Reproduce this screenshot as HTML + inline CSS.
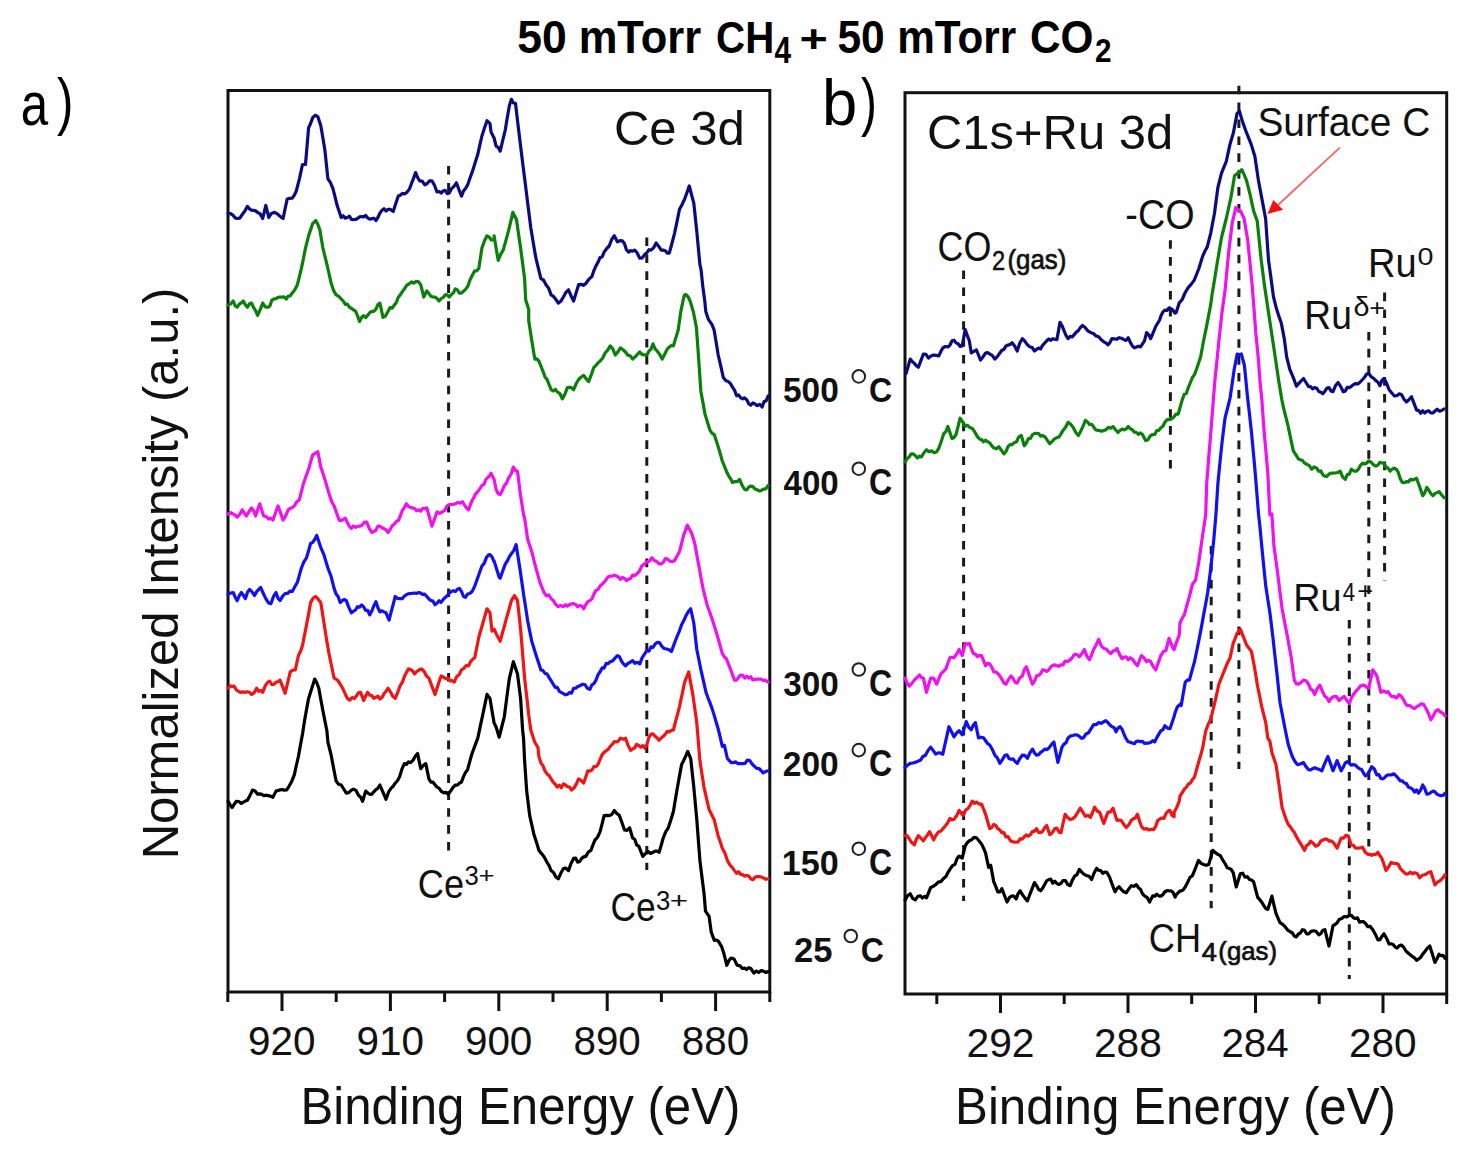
<!DOCTYPE html>
<html><head><meta charset="utf-8">
<style>
html,body{margin:0;padding:0;background:#fefefe;}
body{width:1469px;height:1153px;overflow:hidden;position:relative;font-family:"Liberation Sans",sans-serif;}
svg{position:absolute;left:0;top:0;}
</style></head><body>
<svg width="1469" height="1153" viewBox="0 0 1469 1153" font-family="Liberation Sans, sans-serif">
<!-- frames -->
<g fill="none" stroke="#111" stroke-width="3" stroke-linecap="butt">
<rect x="228" y="90.5" width="541.8" height="901.5"/>
<rect x="905" y="92.7" width="541.7" height="901.3"/>
<line x1="227.8" y1="992" x2="227.8" y2="1002"/>
<line x1="282.0" y1="992" x2="282.0" y2="1011"/>
<line x1="336.2" y1="992" x2="336.2" y2="1002"/>
<line x1="390.4" y1="992" x2="390.4" y2="1011"/>
<line x1="444.6" y1="992" x2="444.6" y2="1002"/>
<line x1="498.8" y1="992" x2="498.8" y2="1011"/>
<line x1="553.0" y1="992" x2="553.0" y2="1002"/>
<line x1="607.2" y1="992" x2="607.2" y2="1011"/>
<line x1="661.4" y1="992" x2="661.4" y2="1002"/>
<line x1="715.6" y1="992" x2="715.6" y2="1011"/>
<line x1="769.8" y1="992" x2="769.8" y2="1002"/>
<line x1="936.8" y1="994" x2="936.8" y2="1004"/>
<line x1="1000.5" y1="994" x2="1000.5" y2="1013"/>
<line x1="1064.2" y1="994" x2="1064.2" y2="1004"/>
<line x1="1128.0" y1="994" x2="1128.0" y2="1013"/>
<line x1="1191.7" y1="994" x2="1191.7" y2="1004"/>
<line x1="1255.5" y1="994" x2="1255.5" y2="1013"/>
<line x1="1319.2" y1="994" x2="1319.2" y2="1004"/>
<line x1="1383.0" y1="994" x2="1383.0" y2="1013"/>
<line x1="1446.7" y1="994" x2="1446.7" y2="1004"/>
</g>
<!-- dashed lines -->
<g stroke="#1a1a1a" stroke-width="3" stroke-dasharray="8.6,8.3" fill="none">
<line x1="448.6" y1="166" x2="448.6" y2="851" stroke-dashoffset="0"/>
<line x1="646.8" y1="237.5" x2="646.8" y2="870" stroke-dashoffset="0"/>
<line x1="963.6" y1="270.5" x2="963.6" y2="901" stroke-dashoffset="0"/>
<line x1="1170.4" y1="240.2" x2="1170.4" y2="468.5" stroke-dashoffset="0"/>
<line x1="1238.9" y1="85.7" x2="1238.9" y2="769" stroke-dashoffset="0"/>
<line x1="1211.2" y1="546" x2="1211.2" y2="908.2" stroke-dashoffset="0"/>
<line x1="1349.3" y1="620" x2="1349.3" y2="979" stroke-dashoffset="0"/>
<line x1="1368.8" y1="331.9" x2="1368.8" y2="846.5" stroke-dashoffset="0"/>
<line x1="1384.6" y1="292.6" x2="1384.6" y2="580.5" stroke-dashoffset="0"/>
</g>
<!-- curves -->
<g fill="none" stroke-width="3.2" stroke-linejoin="round" stroke-linecap="round">
<path d="M228.1,688.2 L230.1,685.8 L232.1,686.5 L234.2,686.2 L236.2,689.7 L238.3,691.2 L240.3,692.3 L242.8,691.9 L245.4,692.3 L247.4,691.7 L249.5,692.3 L251.5,694.4 L254.0,693.0 L256.6,688.2 L258.6,691.3 L260.7,690.5 L262.7,692.3 L265.3,685.6 L267.8,682.1 L269.8,681.2 L271.9,684.7 L273.9,684.2 L276.0,682.3 L278.0,681.7 L280.0,680.1 L282.6,686.7 L285.1,693.3 L287.7,682.6 L290.2,671.9 L292.8,670.1 L295.3,669.9 L298.4,655.6 L300.4,651.8 L302.5,645.4 L304.5,635.3 L306.5,625.1 L308.6,613.9 L310.6,602.6 L313.2,598.0 L315.7,596.5 L318.3,599.3 L320.8,602.6 L322.9,615.9 L324.9,629.1 L326.9,641.4 L329.0,653.6 L331.5,665.8 L334.1,678.1 L336.1,679.1 L338.1,680.8 L340.2,684.2 L342.6,688.2 L344.9,693.1 L347.3,698.4 L349.7,700.1 L352.1,697.6 L354.4,698.4 L356.5,695.7 L358.5,692.9 L360.6,692.3 L363.6,700.5 L365.7,695.9 L367.7,692.3 L369.7,695.2 L371.8,695.5 L373.8,698.4 L375.9,697.2 L377.9,696.2 L379.9,699.0 L382.0,697.4 L384.0,693.7 L386.0,691.3 L388.1,688.2 L390.5,692.0 L392.8,696.2 L395.2,698.4 L397.6,692.7 L400.0,686.0 L402.4,682.1 L404.4,676.5 L406.4,672.5 L408.5,668.9 L410.5,669.5 L412.5,670.8 L414.6,674.0 L417.0,671.3 L419.3,669.8 L421.7,668.9 L424.1,671.3 L426.5,676.0 L428.9,678.1 L430.9,683.5 L432.9,688.9 L435.0,694.4 L437.0,688.2 L439.0,682.1 L441.1,676.0 L443.5,677.1 L445.8,678.7 L448.2,678.1 L450.3,681.0 L452.3,680.7 L454.3,682.1 L456.7,676.7 L459.1,674.8 L461.5,669.9 L463.8,668.5 L466.2,665.6 L468.6,665.8 L470.6,661.6 L472.7,659.2 L474.7,657.7 L476.8,647.5 L478.8,637.3 L480.8,630.2 L482.9,623.0 L484.9,615.9 L487.0,608.8 L490.0,612.8 L492.0,631.2 L494.1,629.1 L496.6,634.7 L499.2,639.3 L500.2,641.4 L502.2,633.9 L504.3,626.4 L506.3,618.9 L508.9,609.8 L511.4,600.6 L514.5,595.5 L517.5,600.6 L520.6,629.1 L522.6,653.6 L524.6,678.1 L526.7,696.4 L528.7,714.7 L530.8,730.0 L533.8,739.2 L534.8,742.2 L537.9,747.4 L538.9,756.5 L540.9,762.9 L543.0,765.8 L545.0,770.8 L547.1,773.9 L549.1,775.5 L551.1,778.9 L553.2,782.1 L555.2,784.2 L557.2,787.1 L559.3,785.1 L561.3,787.8 L563.4,783.9 L565.4,785.0 L567.4,786.7 L569.5,787.0 L571.5,790.1 L573.9,788.1 L576.3,784.1 L578.6,778.9 L581.2,780.5 L583.7,783.0 L585.8,776.9 L587.8,770.8 L589.9,771.1 L591.9,770.0 L593.9,766.6 L596.0,766.7 L598.0,764.4 L600.0,759.7 L602.1,754.7 L604.1,752.4 L606.2,750.7 L608.2,749.3 L610.2,746.3 L612.3,744.3 L614.3,741.7 L616.3,742.0 L618.4,741.2 L620.4,738.2 L623.0,739.2 L625.5,738.2 L628.1,745.4 L630.6,750.4 L632.6,749.0 L634.7,747.9 L636.7,744.3 L638.8,745.6 L640.8,747.2 L642.8,745.6 L644.9,748.3 L646.9,744.4 L649.0,737.1 L651.0,734.1 L653.0,733.9 L655.1,736.3 L657.1,738.0 L659.1,740.2 L661.2,738.0 L663.2,736.4 L665.3,734.1 L667.3,731.3 L669.3,731.8 L671.4,730.4 L673.4,730.0 L675.4,722.2 L677.5,714.4 L679.5,706.6 L682.1,694.4 L684.6,682.1 L686.7,677.0 L688.7,671.9 L690.7,683.1 L692.8,694.4 L694.8,708.6 L696.8,722.9 L699.9,760.6 L701.9,773.8 L704.0,787.1 L706.5,798.3 L709.1,809.5 L711.6,814.6 L714.2,819.7 L716.2,827.8 L718.2,836.0 L720.3,842.1 L722.3,848.2 L724.9,853.0 L727.4,860.4 L729.8,864.8 L732.2,867.3 L734.5,870.6 L736.6,873.4 L738.6,871.8 L740.7,874.5 L742.7,874.7 L744.7,876.1 L746.8,875.4 L748.8,876.1 L750.8,878.8 L752.9,879.7 L754.9,877.2 L757.0,876.6 L759.0,876.7 L761.3,877.0 L763.6,877.9 L765.9,879.3 L768.2,878.8" stroke="#f01414"/>
<path d="M228.1,594.5 L230.6,593.0 L233.2,592.5 L235.2,597.2 L237.2,600.6 L239.3,595.7 L241.3,592.5 L243.3,595.2 L245.4,598.6 L247.4,592.4 L249.5,589.4 L252.0,591.9 L254.6,595.5 L256.6,591.7 L258.6,589.6 L260.7,587.4 L263.2,593.3 L265.8,598.6 L268.3,602.7 L270.9,603.7 L273.4,596.7 L276.0,592.5 L278.0,598.2 L280.0,600.6 L282.6,596.3 L285.1,593.5 L287.5,593.5 L289.9,591.1 L292.3,591.4 L294.8,586.8 L297.4,582.3 L299.4,575.1 L301.4,568.0 L304.0,561.6 L306.5,557.8 L308.6,550.7 L310.6,543.5 L312.7,542.4 L314.7,539.5 L316.7,535.4 L318.8,541.5 L320.8,547.6 L323.9,554.7 L325.9,561.4 L327.9,568.0 L331.0,576.1 L334.1,588.4 L336.1,594.0 L338.1,596.4 L340.2,602.6 L342.2,600.6 L344.3,599.5 L346.3,600.6 L348.8,607.4 L351.4,612.8 L353.4,611.3 L355.5,610.0 L357.5,606.7 L359.5,607.2 L361.6,605.0 L363.6,606.7 L365.7,610.5 L367.7,610.4 L369.7,614.9 L371.8,611.1 L373.8,605.9 L375.9,601.6 L377.9,607.8 L379.9,611.8 L382.0,610.8 L384.0,611.9 L386.0,612.8 L389.1,620.0 L391.1,612.2 L393.2,604.3 L395.2,596.5 L397.6,598.4 L400.0,598.7 L402.4,598.6 L404.7,595.8 L407.1,594.3 L409.5,593.5 L411.8,593.5 L414.1,593.0 L416.4,593.4 L418.7,592.5 L420.7,593.1 L422.7,594.3 L424.8,594.2 L426.8,596.5 L428.9,598.9 L430.9,600.5 L432.9,601.1 L435.0,604.7 L437.0,603.2 L439.0,600.8 L441.1,602.4 L443.1,599.6 L445.2,597.4 L447.2,595.8 L449.2,593.2 L451.3,591.4 L453.3,590.7 L455.4,591.6 L457.4,589.2 L459.4,588.4 L461.5,591.5 L463.5,596.5 L465.5,597.3 L467.6,594.0 L469.6,593.5 L472.2,591.4 L474.7,586.3 L477.1,579.5 L479.5,572.7 L481.9,566.0 L484.2,563.4 L486.6,557.2 L489.0,554.7 L490.0,554.7 L492.0,556.9 L494.1,561.9 L494.1,560.9 L496.6,569.0 L499.2,577.2 L500.2,578.2 L502.7,571.0 L505.3,563.9 L507.3,561.0 L509.4,556.6 L511.4,553.7 L513.7,550.6 L516.1,544.6 L519.5,566.0 L521.6,580.2 L523.6,594.5 L525.7,607.7 L527.7,621.0 L529.7,631.2 L531.8,641.4 L534.3,649.5 L536.9,657.7 L538.9,663.8 L540.9,669.9 L543.0,670.6 L545.0,673.4 L547.1,674.0 L549.1,677.6 L551.1,680.6 L553.2,684.2 L555.2,687.4 L557.2,687.3 L559.3,691.3 L561.3,692.5 L563.4,693.7 L565.4,694.8 L567.4,694.4 L569.5,692.5 L571.5,693.1 L573.6,688.4 L575.6,688.2 L578.0,686.4 L580.3,685.5 L582.7,684.2 L585.1,684.8 L587.5,688.4 L589.9,689.3 L591.9,684.8 L593.9,683.6 L596.0,680.1 L598.0,674.8 L600.0,672.0 L602.1,667.9 L604.1,668.1 L606.2,663.4 L608.2,663.7 L610.2,661.7 L612.6,660.9 L615.0,658.1 L617.4,655.6 L619.4,656.6 L621.4,661.0 L623.5,663.9 L625.5,665.8 L627.9,663.5 L630.3,662.2 L632.6,660.7 L635.0,663.3 L637.4,662.3 L639.8,663.8 L642.2,657.6 L644.5,654.2 L646.9,650.5 L649.0,651.1 L651.0,646.9 L653.0,647.5 L655.1,644.1 L657.1,642.4 L659.5,642.7 L661.9,646.4 L664.2,648.5 L666.6,649.0 L669.0,649.7 L671.4,651.6 L673.4,646.1 L675.4,640.7 L677.5,635.3 L679.5,630.8 L681.6,624.7 L683.6,621.0 L686.0,615.6 L688.4,611.5 L690.7,608.8 L693.8,623.0 L696.8,649.5 L698.9,659.7 L700.9,669.9 L703.5,681.1 L706.0,692.3 L708.0,697.8 L710.1,703.2 L712.1,708.6 L714.2,715.4 L716.2,722.2 L718.2,729.0 L720.3,737.7 L722.3,746.3 L724.4,745.3 L727.4,758.5 L729.4,760.8 L731.5,762.7 L733.5,762.6 L735.8,761.9 L738.1,763.7 L740.4,763.7 L742.7,763.6 L745.1,763.3 L747.4,760.0 L749.8,760.6 L752.4,764.4 L754.9,766.7 L757.0,768.5 L759.0,768.5 L761.0,770.5 L763.1,772.8 L765.6,771.5 L768.2,770.8" stroke="#1010f0"/>
<path d="M228.1,801.3 L230.1,804.9 L232.1,807.5 L234.2,804.3 L236.2,801.3 L238.8,801.5 L241.3,803.4 L243.3,802.1 L245.4,801.1 L247.4,800.3 L250.0,795.4 L252.5,790.1 L255.1,791.0 L257.6,794.2 L259.7,793.9 L261.7,794.4 L263.7,795.6 L265.8,795.2 L268.1,795.6 L270.5,796.1 L272.9,797.3 L276.0,791.1 L278.0,790.5 L280.0,789.9 L282.1,789.5 L284.1,790.1 L286.7,789.9 L289.2,786.0 L291.8,781.2 L294.3,774.8 L296.3,765.7 L298.4,756.5 L300.4,745.3 L302.5,734.1 L304.5,720.9 L306.5,709.6 L308.6,698.4 L310.6,692.0 L312.7,685.5 L314.7,679.1 L316.7,682.5 L318.8,688.2 L320.8,699.5 L322.9,710.7 L324.9,720.9 L326.9,731.0 L327.9,742.2 L331.0,754.5 L334.1,770.8 L336.1,781.0 L338.6,784.2 L341.2,785.0 L343.7,789.0 L346.3,793.2 L348.7,792.6 L351.1,790.3 L353.4,789.1 L356.0,790.4 L358.5,795.2 L360.6,797.1 L362.6,801.3 L365.7,791.1 L367.7,792.9 L369.7,794.3 L371.8,794.2 L373.8,791.8 L375.9,789.6 L377.9,788.2 L379.9,785.0 L382.0,790.0 L384.0,794.5 L386.0,799.3 L388.6,792.0 L391.1,788.1 L393.2,786.2 L395.2,783.2 L397.3,781.0 L399.6,776.8 L402.0,768.9 L404.4,763.6 L406.4,764.4 L408.5,761.9 L410.5,762.6 L412.9,760.4 L415.3,756.3 L417.6,753.4 L420.7,768.7 L423.2,765.5 L425.8,763.6 L428.9,778.9 L430.9,782.1 L432.9,782.0 L435.0,784.8 L437.0,787.1 L439.0,788.1 L441.1,791.1 L443.5,792.8 L445.8,792.4 L448.2,794.2 L450.6,791.1 L453.0,787.4 L455.4,785.0 L457.4,785.1 L459.4,783.2 L461.5,782.0 L463.5,776.6 L465.5,772.4 L467.6,769.7 L469.6,762.1 L471.7,754.5 L473.7,749.0 L475.7,743.6 L477.8,738.2 L480.1,727.2 L482.4,716.3 L484.7,705.3 L487.0,694.4 L490.0,698.4 L492.0,710.7 L494.1,722.9 L496.1,727.0 L499.2,737.2 L501.7,727.0 L504.3,716.8 L506.8,697.4 L509.4,678.1 L511.4,669.9 L513.4,661.7 L515.5,667.9 L517.5,674.0 L520.6,698.4 L522.6,730.0 L523.6,739.2 L524.6,760.6 L526.7,791.1 L529.7,815.6 L531.8,824.8 L533.8,833.9 L536.4,842.1 L538.9,850.3 L540.9,852.9 L543.0,855.3 L545.0,858.4 L547.1,862.5 L549.1,865.7 L551.1,870.6 L553.5,872.5 L555.9,877.0 L558.3,878.8 L560.8,873.3 L563.4,868.6 L565.9,868.2 L568.5,870.6 L571.0,863.5 L573.6,858.4 L575.6,858.0 L577.6,862.1 L579.7,861.5 L581.7,858.4 L583.7,856.9 L585.8,856.4 L588.3,852.0 L590.9,850.3 L592.9,845.2 L594.9,840.1 L597.5,837.2 L600.0,831.9 L602.1,823.8 L604.1,815.6 L606.7,815.3 L609.2,815.6 L611.8,814.5 L614.3,810.5 L616.9,813.6 L619.4,815.6 L622.0,822.7 L624.5,829.9 L627.0,830.4 L629.6,827.8 L632.6,838.0 L634.7,839.3 L636.7,845.0 L638.8,846.2 L640.8,851.3 L642.8,856.4 L645.4,853.7 L647.9,851.3 L650.5,853.5 L653.0,852.3 L655.1,851.2 L657.1,851.0 L659.1,852.3 L661.2,845.2 L663.2,838.0 L665.8,831.6 L668.3,827.8 L670.9,819.7 L673.4,811.5 L675.4,799.3 L677.5,787.1 L679.5,775.9 L681.6,764.6 L683.6,760.7 L685.6,756.4 L687.7,751.4 L690.7,758.5 L693.8,787.1 L696.8,819.7 L699.9,860.4 L701.9,876.7 L704.0,893.1 L705.5,911.2 L709.1,916.4 L711.2,932.0 L714.3,940.4 L716.4,940.0 L718.5,941.4 L721.6,946.6 L723.7,952.9 L726.8,965.3 L728.9,960.5 L731.0,958.1 L734.1,959.1 L737.2,965.3 L739.8,965.6 L742.4,968.5 L744.5,968.1 L746.6,969.5 L748.7,967.6 L750.8,968.5 L753.9,973.1 L756.3,971.1 L758.7,972.4 L761.2,970.5 L763.6,971.3 L766.0,972.5 L768.4,971.6" stroke="#000000"/>
<path d="M228.1,514.0 L230.6,512.7 L233.2,514.0 L235.2,515.2 L237.2,517.1 L239.8,514.2 L242.3,509.9 L244.4,513.3 L246.4,516.0 L249.0,511.6 L251.5,507.9 L253.5,510.6 L255.6,516.0 L257.6,509.9 L259.7,503.8 L261.7,509.9 L263.7,516.0 L266.3,516.6 L268.8,519.1 L270.9,518.2 L272.9,520.1 L275.5,513.0 L278.0,505.9 L280.6,513.0 L283.1,520.1 L285.6,516.2 L288.2,509.9 L290.2,508.4 L292.3,507.6 L294.3,505.9 L296.9,501.7 L299.4,499.7 L301.4,491.6 L303.5,483.4 L306.0,476.3 L308.6,469.2 L310.6,462.0 L312.7,454.9 L315.2,453.4 L317.8,451.8 L320.8,467.1 L322.9,473.2 L324.9,479.4 L326.9,486.5 L329.0,493.6 L331.5,501.2 L334.1,505.9 L336.6,513.0 L339.2,520.1 L341.2,520.6 L343.2,519.5 L345.3,518.1 L347.3,522.6 L349.4,526.4 L351.4,528.3 L353.4,526.0 L355.5,527.3 L357.5,526.5 L359.5,526.2 L361.9,525.4 L364.3,522.2 L366.7,522.2 L369.2,528.3 L371.8,532.4 L373.8,531.6 L375.9,530.3 L377.9,526.1 L379.9,526.2 L382.0,527.8 L384.0,528.7 L386.0,529.7 L388.1,532.4 L390.1,529.6 L392.2,525.8 L394.2,524.2 L396.2,521.7 L398.3,520.5 L400.3,516.0 L402.4,510.3 L404.4,507.3 L406.4,503.8 L408.5,506.5 L410.5,507.4 L412.5,507.9 L414.6,508.6 L416.6,510.7 L418.7,509.9 L420.7,511.2 L422.7,508.3 L424.8,508.6 L426.8,507.9 L429.4,517.1 L431.9,526.2 L434.5,519.1 L437.0,512.0 L439.6,513.4 L442.1,512.0 L444.7,510.4 L447.2,505.9 L449.2,504.7 L451.3,504.5 L453.3,504.5 L455.4,503.8 L457.7,502.4 L460.1,503.2 L462.5,501.8 L464.5,505.1 L466.6,508.1 L468.6,509.9 L471.2,502.6 L473.7,497.7 L475.7,493.8 L477.8,491.7 L479.8,488.8 L481.9,485.5 L483.9,484.3 L485.9,479.3 L488.0,477.3 L490.0,475.3 L491.0,473.2 L494.1,479.4 L496.1,489.5 L498.2,493.7 L500.2,494.6 L502.2,490.7 L504.3,485.7 L506.3,483.4 L508.7,477.9 L511.1,474.2 L513.4,467.1 L515.5,470.6 L517.5,471.2 L520.6,495.7 L523.6,515.0 L524.6,518.1 L527.7,539.5 L529.7,545.6 L531.8,551.7 L533.8,559.8 L535.9,568.0 L537.9,575.1 L539.9,582.3 L542.0,587.4 L544.0,592.5 L546.4,595.8 L548.8,595.0 L551.1,598.6 L553.5,600.8 L555.9,604.6 L558.3,606.7 L560.6,605.4 L563.0,606.7 L565.4,604.7 L567.4,606.1 L569.5,604.6 L571.5,603.9 L573.6,603.7 L575.6,604.4 L577.6,606.8 L579.7,605.5 L581.7,606.0 L583.7,608.8 L585.8,604.6 L587.8,601.6 L589.9,600.6 L591.9,598.9 L593.9,594.1 L596.0,590.4 L598.0,589.5 L600.0,586.2 L602.1,584.3 L604.1,582.2 L606.2,579.5 L608.2,576.7 L610.2,576.1 L612.3,576.1 L614.3,575.2 L616.3,575.8 L618.4,577.2 L620.4,579.3 L622.5,577.5 L624.5,578.5 L626.5,580.6 L628.6,579.2 L630.6,578.4 L632.6,575.1 L634.7,575.7 L636.7,574.1 L639.3,571.4 L641.8,566.0 L644.4,564.0 L646.9,561.9 L649.5,561.1 L652.0,557.8 L654.4,560.5 L656.8,561.6 L659.1,563.9 L661.2,563.8 L663.2,562.6 L665.3,558.7 L667.3,558.8 L669.7,561.1 L672.0,561.4 L674.4,560.9 L677.0,556.3 L679.5,551.7 L681.6,543.5 L683.6,535.4 L687.3,525.2 L689.5,529.3 L691.7,533.3 L694.8,543.5 L696.8,554.7 L698.9,566.0 L700.9,577.2 L703.0,588.4 L705.0,596.5 L707.0,604.7 L709.6,611.8 L712.1,618.9 L714.7,627.1 L717.2,635.3 L719.8,644.4 L722.3,653.6 L724.4,657.0 L726.4,658.8 L728.4,663.8 L730.5,669.2 L732.5,674.7 L734.5,680.1 L736.6,680.1 L738.6,677.4 L740.7,675.0 L742.7,675.3 L744.7,678.1 L746.8,676.1 L748.8,678.1 L750.8,676.8 L752.9,680.0 L754.9,679.5 L757.0,679.1 L759.0,679.2 L761.0,679.1 L763.1,680.3 L765.1,680.1 L768.2,682.1" stroke="#f010f0"/>
<path d="M228.1,305.1 L230.6,303.9 L233.2,301.0 L235.2,305.9 L237.2,307.2 L239.3,304.1 L241.3,302.9 L243.3,301.0 L245.4,304.9 L247.4,307.2 L249.5,303.8 L251.5,303.1 L253.5,307.3 L255.6,310.6 L257.6,315.3 L260.2,309.8 L262.7,303.1 L265.3,306.9 L267.8,307.2 L269.8,306.2 L271.9,300.1 L273.9,299.0 L276.0,298.7 L278.0,297.3 L280.0,297.0 L282.1,297.1 L284.1,296.8 L286.2,299.0 L288.2,296.1 L290.2,295.9 L292.3,292.9 L294.8,289.8 L297.4,284.7 L299.4,276.6 L301.4,268.4 L303.5,258.2 L305.5,248.1 L308.6,235.8 L310.6,229.7 L312.7,223.6 L315.7,220.5 L317.8,224.2 L319.8,229.7 L322.9,248.1 L324.9,256.2 L326.9,264.4 L329.0,273.5 L331.0,282.7 L333.6,290.6 L336.1,294.9 L338.5,296.2 L340.9,298.6 L343.2,301.0 L345.3,304.4 L347.3,304.1 L349.4,307.2 L351.4,308.2 L353.4,309.9 L355.5,311.2 L357.5,315.7 L359.5,321.4 L361.6,317.4 L363.6,315.6 L365.7,317.6 L367.7,315.3 L369.7,312.6 L371.8,311.3 L373.8,311.3 L375.9,309.2 L377.9,304.5 L379.9,303.1 L383.0,317.4 L385.5,316.0 L388.1,311.2 L390.1,307.6 L392.2,308.1 L394.2,305.1 L396.2,302.8 L398.3,297.2 L400.3,294.9 L402.4,291.7 L404.4,288.8 L406.9,285.2 L409.5,283.7 L411.5,281.8 L413.6,283.1 L415.6,281.7 L418.2,281.6 L420.7,284.7 L423.8,297.0 L426.8,290.9 L428.9,293.6 L430.9,296.3 L432.9,297.0 L435.0,297.2 L437.0,298.5 L439.0,301.0 L441.1,298.7 L443.1,297.5 L445.2,294.9 L447.2,294.9 L449.2,297.0 L451.3,294.6 L453.3,292.9 L455.4,288.8 L457.4,289.9 L459.4,293.3 L461.5,292.9 L463.5,291.3 L465.5,289.3 L467.6,286.8 L470.1,279.8 L472.7,274.5 L474.7,270.9 L476.8,270.8 L478.8,268.4 L481.9,248.1 L484.4,241.0 L487.0,235.8 L490.0,237.9 L491.0,239.9 L494.1,239.9 L494.1,235.8 L496.1,248.1 L498.2,260.3 L500.7,254.2 L503.2,250.1 L505.8,240.9 L508.3,231.7 L510.6,222.1 L512.8,212.4 L516.5,219.5 L518.5,233.8 L520.6,248.1 L522.6,263.3 L524.6,278.6 L525.7,300.0 L528.7,309.2 L528.7,320.4 L531.8,340.8 L534.8,359.1 L536.9,358.9 L538.9,361.1 L540.9,366.2 L543.0,371.3 L545.0,376.9 L547.1,379.5 L549.1,384.6 L551.1,389.7 L553.2,391.0 L555.2,389.4 L557.2,391.7 L559.8,393.5 L562.3,398.9 L564.9,394.2 L567.4,387.6 L569.5,387.2 L571.5,387.8 L573.6,389.7 L576.1,383.8 L578.6,379.5 L581.2,377.0 L583.7,375.4 L586.3,379.0 L588.8,381.5 L591.4,374.4 L593.9,367.3 L596.0,365.3 L598.0,362.9 L600.0,361.1 L602.6,358.2 L605.1,353.0 L607.7,350.2 L610.2,345.9 L612.8,348.9 L615.3,355.0 L617.9,351.9 L620.4,347.9 L623.0,349.8 L625.5,352.0 L627.9,355.3 L630.3,355.9 L632.6,359.1 L635.0,357.0 L637.4,354.4 L639.8,352.0 L642.2,354.6 L644.5,354.8 L646.9,355.0 L649.0,350.9 L651.0,349.2 L653.0,343.8 L655.1,348.8 L657.1,351.0 L659.7,354.4 L662.2,359.1 L664.7,354.2 L667.3,348.9 L669.3,347.1 L671.4,345.4 L673.4,345.9 L675.8,337.9 L678.2,330.0 L680.8,311.6 L682.9,301.2 L684.5,295.0 L686.0,294.5 L688.1,296.8 L690.2,301.2 L693.3,311.6 L696.4,327.2 L698.7,359.5 L700.9,391.7 L703.0,402.9 L705.0,414.1 L707.5,422.3 L710.1,430.4 L712.1,433.3 L714.2,434.5 L716.2,440.6 L718.2,446.7 L720.3,453.9 L722.3,461.0 L724.4,466.1 L726.4,471.2 L728.4,475.3 L730.5,478.6 L732.5,482.4 L734.9,481.6 L737.3,481.7 L739.6,479.4 L742.2,485.5 L744.7,489.5 L746.8,490.0 L748.8,486.9 L750.8,486.1 L752.9,486.5 L754.9,489.0 L757.0,489.7 L759.0,491.0 L761.0,490.6 L763.4,489.1 L765.8,488.9 L768.2,485.5" stroke="#0a800a"/>
<path d="M228.1,213.4 L230.6,213.7 L233.2,215.4 L235.2,217.9 L237.2,218.5 L239.8,218.2 L242.3,214.4 L244.9,211.1 L247.4,206.3 L249.5,208.9 L251.5,210.2 L253.5,210.3 L255.6,210.9 L257.6,212.4 L260.2,213.9 L262.7,218.5 L265.8,205.3 L268.8,217.5 L271.4,213.4 L273.9,212.4 L276.5,213.2 L279.0,215.4 L281.1,217.1 L283.1,218.5 L285.1,208.8 L287.2,199.1 L289.7,198.3 L292.3,198.1 L294.3,195.2 L296.3,191.0 L299.4,178.8 L302.5,164.5 L305.5,164.5 L308.6,127.8 L310.6,123.5 L312.7,117.6 L315.2,115.3 L317.8,116.6 L320.8,125.8 L322.9,138.0 L324.9,150.2 L327.9,178.8 L330.5,182.6 L333.0,188.9 L335.1,197.1 L337.1,205.3 L339.2,211.4 L341.2,217.5 L343.2,215.8 L345.3,218.1 L347.3,217.5 L349.4,216.2 L351.4,219.3 L353.4,219.6 L355.5,219.5 L357.5,218.5 L359.5,216.9 L361.6,216.5 L363.6,216.8 L365.7,215.4 L367.7,218.0 L369.7,219.2 L371.8,218.6 L373.8,218.2 L375.9,220.5 L377.9,217.5 L379.9,213.1 L382.0,210.3 L384.0,208.7 L386.0,211.1 L388.1,209.3 L390.6,209.4 L393.2,211.4 L395.7,203.7 L398.3,196.1 L400.3,195.3 L402.4,193.4 L404.4,194.0 L406.9,192.4 L409.5,188.9 L411.5,183.5 L413.6,178.1 L415.6,172.6 L417.6,177.5 L419.7,180.8 L422.2,181.2 L424.8,184.9 L427.2,183.5 L429.5,180.9 L431.9,180.8 L434.5,185.3 L437.0,192.0 L439.0,191.5 L441.1,193.0 L443.1,191.0 L445.2,190.3 L447.2,193.7 L449.2,193.0 L451.6,188.6 L454.0,186.3 L456.4,182.8 L458.9,189.5 L461.5,196.1 L463.5,191.0 L465.5,188.5 L467.6,184.9 L470.1,177.7 L472.7,170.6 L475.2,162.5 L477.8,154.3 L479.8,145.1 L481.9,136.0 L484.4,128.3 L487.0,120.7 L490.0,123.7 L491.0,131.9 L494.1,138.0 L496.1,146.1 L498.2,147.4 L500.2,151.2 L502.7,140.5 L505.3,129.8 L507.3,117.6 L509.4,105.4 L511.4,99.3 L513.4,103.0 L515.5,103.3 L518.0,124.7 L520.6,146.1 L523.1,166.5 L525.7,186.9 L528.2,207.3 L530.8,227.7 L533.3,243.0 L535.9,258.2 L538.4,268.4 L540.9,278.6 L543.5,280.0 L546.0,284.7 L548.6,288.1 L551.1,294.9 L553.5,296.4 L555.9,299.5 L558.3,303.1 L560.8,301.3 L563.4,297.0 L565.9,292.3 L568.5,289.8 L571.0,295.7 L573.6,301.0 L576.1,292.9 L578.6,284.7 L581.0,284.3 L583.4,285.3 L585.8,283.7 L587.8,280.6 L589.9,278.2 L591.9,276.6 L593.9,270.6 L596.0,265.9 L598.0,262.3 L600.0,257.6 L602.1,257.0 L604.1,252.1 L606.7,248.5 L609.2,246.0 L611.8,239.2 L614.3,235.8 L617.4,241.9 L619.9,240.7 L622.5,240.9 L624.5,243.7 L626.5,249.9 L628.6,252.1 L630.6,250.6 L632.6,251.2 L634.7,250.1 L637.2,253.1 L639.8,258.2 L642.3,257.9 L644.9,254.2 L646.9,252.7 L649.0,249.7 L651.0,250.1 L653.5,247.9 L656.1,243.0 L658.6,246.2 L661.2,250.1 L663.2,250.1 L665.3,250.7 L667.3,253.2 L669.3,253.1 L671.9,243.5 L674.4,233.8 L677.0,221.6 L679.5,209.3 L682.1,204.5 L684.6,199.1 L687.0,192.5 L689.3,185.9 L691.5,194.6 L693.8,203.2 L696.8,231.7 L699.9,264.4 L701.1,270.0 L702.7,285.6 L704.8,301.2 L705.8,311.6 L708.4,319.4 L712.0,324.6 L714.1,330.0 L716.2,342.5 L718.2,355.0 L720.8,366.2 L723.3,377.5 L725.7,380.6 L728.1,381.4 L730.5,383.6 L732.5,387.2 L734.5,390.1 L736.6,395.8 L738.6,394.9 L740.7,397.9 L742.7,398.8 L744.7,397.8 L746.8,399.8 L748.8,403.9 L750.8,405.1 L752.9,402.8 L754.9,403.9 L757.3,405.7 L759.7,404.3 L762.1,407.0 L764.1,401.6 L766.1,400.9 L768.2,395.8" stroke="#0b0b80"/>
<path d="M905.1,835.7 L907.1,835.6 L909.2,838.8 L911.7,842.6 L914.3,844.9 L916.3,839.6 L918.3,835.7 L920.9,838.2 L923.4,840.8 L925.5,837.5 L927.5,834.9 L929.5,831.7 L931.6,835.6 L933.6,839.8 L936.2,835.0 L938.7,831.7 L940.8,831.2 L942.8,828.9 L944.8,826.6 L947.4,823.3 L949.9,818.4 L952.0,819.8 L954.0,819.4 L956.6,815.8 L959.1,810.3 L961.1,813.2 L963.2,815.3 L965.7,810.1 L968.3,808.2 L970.3,805.0 L972.3,801.1 L974.4,803.3 L976.4,802.1 L979.0,804.1 L981.5,804.1 L983.6,809.2 L985.6,814.3 L987.6,821.5 L989.7,828.6 L991.7,827.6 L993.7,824.5 L995.8,825.5 L997.8,828.6 L999.9,830.0 L1001.9,832.7 L1003.9,832.6 L1006.0,837.0 L1008.0,836.7 L1010.6,840.9 L1013.1,841.8 L1015.6,842.2 L1018.2,841.8 L1020.2,838.7 L1022.3,839.1 L1024.3,836.7 L1026.3,835.0 L1028.4,836.1 L1030.4,834.7 L1032.5,831.3 L1034.5,831.3 L1036.5,828.6 L1038.6,832.4 L1040.6,832.7 L1042.6,831.4 L1044.7,827.7 L1046.7,825.5 L1049.8,834.7 L1052.3,832.7 L1054.9,828.6 L1056.9,828.2 L1059.0,832.1 L1061.0,832.7 L1063.0,823.5 L1065.1,814.3 L1067.6,817.4 L1070.2,819.4 L1072.7,818.7 L1075.3,816.4 L1077.8,812.2 L1080.3,808.2 L1082.9,812.2 L1085.4,816.4 L1088.0,815.3 L1090.5,817.4 L1092.6,812.3 L1094.6,807.2 L1097.2,811.2 L1099.7,812.3 L1101.7,817.9 L1103.8,823.5 L1105.8,817.9 L1107.9,812.3 L1110.4,811.9 L1113.0,808.2 L1115.0,814.3 L1117.0,820.4 L1119.1,820.0 L1121.1,820.4 L1123.7,824.3 L1126.2,827.6 L1128.7,825.0 L1131.3,820.4 L1133.3,818.7 L1135.4,817.9 L1137.4,814.3 L1139.4,820.4 L1141.5,826.6 L1144.0,829.2 L1146.6,828.6 L1149.0,830.0 L1151.3,829.3 L1153.7,829.6 L1155.7,826.4 L1157.8,820.4 L1159.8,819.0 L1161.9,818.0 L1163.9,818.4 L1166.4,812.9 L1169.0,810.3 L1170.0,810.5 L1172.0,815.4 L1174.1,816.6 L1174.1,812.3 L1176.6,807.7 L1179.2,801.3 L1180.0,796.0 L1182.1,793.0 L1184.3,789.1 L1186.3,787.4 L1188.3,784.2 L1190.4,783.0 L1192.4,779.7 L1194.5,776.9 L1196.5,769.7 L1198.5,762.6 L1200.6,755.5 L1202.6,748.3 L1205.7,731.0 L1208.2,724.4 L1210.8,718.8 L1212.8,710.7 L1214.8,702.5 L1216.9,693.3 L1218.9,684.2 L1220.9,679.1 L1223.0,674.0 L1225.0,668.9 L1227.1,663.8 L1230.1,657.7 L1233.2,643.4 L1235.2,638.3 L1237.2,633.2 L1240.3,629.1 L1242.3,634.2 L1244.4,639.3 L1246.4,644.7 L1248.5,647.5 L1251.5,651.6 L1254.6,667.9 L1257.6,686.2 L1259.7,696.4 L1261.7,706.6 L1263.7,714.7 L1265.8,722.9 L1267.8,738.2 L1269.9,741.2 L1271.9,752.4 L1273.9,758.5 L1276.0,764.6 L1279.0,785.0 L1282.1,807.5 L1284.1,813.6 L1286.2,819.7 L1288.2,824.4 L1290.2,826.6 L1292.3,829.9 L1294.3,832.3 L1296.3,836.5 L1298.4,840.1 L1300.4,843.3 L1302.5,846.9 L1304.5,850.3 L1306.5,845.6 L1308.6,844.4 L1310.6,841.1 L1313.2,843.3 L1315.7,846.2 L1318.3,845.1 L1320.8,841.1 L1322.8,840.0 L1324.9,839.2 L1326.9,839.0 L1329.0,841.2 L1331.0,840.9 L1333.0,842.1 L1335.1,845.1 L1337.1,848.2 L1339.1,843.1 L1341.2,838.0 L1343.6,838.1 L1345.9,835.3 L1348.3,836.0 L1351.4,845.2 L1353.4,845.3 L1355.4,847.9 L1357.5,848.2 L1360.0,848.0 L1362.6,847.2 L1365.1,852.1 L1367.7,854.3 L1369.7,854.1 L1371.7,855.3 L1373.8,854.3 L1375.8,854.5 L1377.9,852.3 L1379.9,855.7 L1381.9,858.4 L1384.0,864.5 L1386.0,870.6 L1388.6,867.0 L1391.1,862.5 L1393.7,863.3 L1396.2,863.5 L1398.2,864.3 L1400.3,868.5 L1402.3,870.6 L1404.4,872.7 L1406.4,874.1 L1408.4,873.7 L1410.5,872.1 L1412.5,873.8 L1414.5,872.7 L1417.1,873.5 L1419.6,877.8 L1422.2,875.3 L1424.7,874.7 L1426.8,873.7 L1428.8,872.2 L1430.8,871.7 L1432.9,878.3 L1434.9,884.9 L1437.5,882.2 L1440.0,880.8 L1442.6,878.2 L1445.1,874.7" stroke="#f01414"/>
<path d="M905.1,767.5 L907.6,765.1 L910.2,763.4 L912.7,763.0 L915.3,762.4 L917.8,761.2 L920.4,760.3 L922.9,756.5 L925.5,755.2 L928.0,750.6 L930.6,747.1 L933.1,750.4 L935.7,754.2 L938.0,752.9 L940.4,753.0 L942.8,754.2 L944.8,745.0 L946.9,735.9 L948.9,726.7 L951.5,731.8 L954.0,736.9 L956.6,733.0 L959.1,730.8 L962.2,734.8 L964.2,728.2 L966.2,721.6 L968.8,727.4 L971.3,729.7 L973.4,725.0 L975.4,722.6 L978.5,737.9 L981.0,737.2 L983.6,737.9 L985.6,740.7 L987.6,743.5 L989.7,745.0 L992.2,749.2 L994.8,755.2 L997.3,757.9 L999.9,763.4 L1002.4,759.7 L1004.9,755.2 L1007.0,754.8 L1009.0,758.6 L1011.1,759.3 L1013.1,758.9 L1015.1,761.5 L1017.2,763.4 L1019.7,758.8 L1022.3,755.2 L1024.8,755.4 L1027.4,758.3 L1029.9,752.9 L1032.5,749.1 L1034.5,753.0 L1036.5,755.2 L1038.6,754.8 L1040.6,752.3 L1042.6,751.1 L1044.7,749.1 L1046.7,749.6 L1048.8,748.1 L1051.3,744.7 L1053.9,742.0 L1055.9,752.2 L1057.9,762.4 L1060.0,754.7 L1062.0,747.1 L1064.0,744.1 L1066.1,742.6 L1068.1,737.9 L1070.5,735.9 L1072.9,735.5 L1075.3,734.8 L1077.3,735.0 L1079.3,736.4 L1081.4,738.3 L1083.4,737.9 L1086.0,734.0 L1088.5,732.8 L1091.0,728.8 L1093.6,724.6 L1096.1,724.7 L1098.7,722.6 L1101.1,723.3 L1103.4,722.0 L1105.8,720.6 L1107.9,722.7 L1109.9,724.8 L1111.9,726.7 L1114.0,727.4 L1116.0,731.8 L1118.0,728.1 L1120.1,726.7 L1122.1,729.2 L1124.2,734.7 L1126.2,738.9 L1128.2,741.8 L1130.3,742.2 L1132.3,743.0 L1134.4,743.7 L1136.4,741.3 L1138.4,741.0 L1140.5,741.7 L1142.5,741.4 L1144.5,743.5 L1146.6,743.0 L1148.6,743.1 L1150.7,742.4 L1152.7,740.7 L1154.7,742.0 L1156.8,737.6 L1158.8,734.1 L1160.8,730.8 L1162.9,729.8 L1164.9,725.7 L1167.5,728.2 L1170.0,728.7 L1172.1,722.6 L1174.1,716.5 L1175.1,712.7 L1177.5,706.7 L1180.0,704.3 L1181.2,705.6 L1183.2,693.8 L1185.3,682.1 L1187.3,680.2 L1189.4,680.1 L1191.9,670.9 L1194.5,661.7 L1197.0,649.5 L1199.5,637.3 L1201.6,626.1 L1203.6,614.9 L1205.7,603.7 L1207.7,592.5 L1210.8,568.0 L1213.8,539.5 L1215.9,515.0 L1217.9,483.4 L1219.9,463.1 L1222.0,442.7 L1225.0,418.2 L1227.6,408.0 L1230.1,397.8 L1232.2,383.6 L1234.2,369.3 L1237.2,354.0 L1239.3,354.7 L1241.3,354.0 L1244.4,365.2 L1247.4,395.8 L1249.5,414.1 L1251.5,432.5 L1253.6,454.9 L1255.6,477.3 L1258.6,515.0 L1259.7,524.2 L1261.7,545.6 L1263.7,566.0 L1265.8,586.3 L1267.8,599.6 L1269.9,612.8 L1272.9,637.3 L1274.9,655.6 L1277.0,674.0 L1280.0,702.5 L1283.1,718.8 L1285.1,729.0 L1287.2,739.2 L1288.2,744.3 L1290.2,750.4 L1292.3,756.5 L1294.8,761.3 L1297.4,764.6 L1299.4,764.2 L1301.4,763.4 L1303.5,762.6 L1306.0,766.6 L1308.6,769.7 L1310.6,769.8 L1312.6,768.7 L1314.7,767.7 L1317.1,768.7 L1319.4,769.6 L1321.8,770.8 L1323.9,765.4 L1325.9,760.8 L1327.9,756.5 L1330.5,763.6 L1333.0,770.8 L1335.1,765.7 L1337.1,760.6 L1339.1,765.7 L1341.2,770.8 L1343.2,767.3 L1345.3,762.9 L1347.3,761.6 L1349.3,763.3 L1351.4,765.2 L1353.4,764.6 L1355.4,765.0 L1357.5,767.3 L1359.5,768.7 L1361.6,769.5 L1363.6,773.3 L1365.6,775.9 L1367.7,774.1 L1369.7,770.6 L1371.7,766.7 L1374.3,769.0 L1376.8,774.8 L1378.9,774.7 L1380.9,778.5 L1383.0,778.9 L1385.0,777.2 L1387.0,775.2 L1389.1,774.8 L1391.4,775.0 L1393.8,773.8 L1396.2,775.9 L1398.2,778.3 L1400.3,781.0 L1402.3,780.8 L1404.4,783.0 L1406.4,783.6 L1408.4,787.1 L1410.5,787.9 L1412.5,789.1 L1414.5,792.1 L1416.6,790.0 L1418.6,793.2 L1420.7,789.8 L1422.7,785.0 L1424.7,788.4 L1426.8,794.2 L1428.8,793.8 L1430.8,792.5 L1432.9,791.1 L1434.9,791.8 L1437.0,794.1 L1439.0,795.2 L1441.0,795.6 L1443.1,795.4 L1445.1,793.2" stroke="#1010f0"/>
<path d="M905.1,899.9 L907.6,895.7 L910.2,893.8 L912.7,898.4 L915.3,899.9 L917.8,896.3 L920.4,895.9 L922.4,898.0 L924.5,896.4 L926.5,897.9 L928.5,892.8 L930.6,887.7 L933.1,886.3 L935.7,884.6 L938.2,882.1 L940.8,881.6 L943.3,878.7 L945.9,876.5 L947.9,872.6 L949.9,869.4 L952.5,865.6 L955.0,864.3 L957.1,858.5 L959.1,856.1 L962.2,858.1 L965.2,845.9 L967.2,842.7 L969.3,840.8 L971.7,839.7 L974.0,837.4 L976.4,837.8 L979.0,840.7 L981.5,843.9 L983.6,848.2 L985.6,853.1 L988.6,867.3 L990.7,865.3 L993.7,881.6 L995.8,886.7 L997.8,891.8 L999.9,892.0 L1001.9,888.7 L1004.4,895.3 L1007.0,902.0 L1009.5,897.4 L1012.1,895.9 L1014.1,896.3 L1016.2,898.9 L1018.2,893.4 L1020.2,890.8 L1022.6,894.9 L1025.0,898.1 L1027.4,900.9 L1029.7,894.8 L1032.1,888.7 L1034.5,882.6 L1036.5,885.6 L1038.6,889.4 L1040.6,890.8 L1042.6,888.2 L1044.7,884.5 L1046.7,880.8 L1048.8,879.5 L1050.8,879.2 L1052.8,883.2 L1054.9,881.2 L1056.9,883.6 L1059.0,884.4 L1061.0,883.3 L1063.0,880.6 L1065.4,880.5 L1067.8,884.6 L1070.2,885.7 L1072.5,879.8 L1074.7,876.2 L1077.0,874.7 L1079.3,869.4 L1081.7,872.1 L1084.1,874.4 L1086.5,875.5 L1089.0,876.3 L1091.6,879.5 L1094.1,873.0 L1096.7,868.3 L1098.7,870.4 L1100.7,870.5 L1102.8,873.4 L1104.8,872.0 L1106.8,872.4 L1109.4,876.8 L1111.9,883.6 L1115.0,891.8 L1117.0,888.6 L1119.1,886.7 L1121.4,889.6 L1123.8,891.8 L1126.2,892.8 L1128.7,889.1 L1131.3,885.7 L1133.8,886.3 L1136.4,884.6 L1138.4,887.7 L1140.5,889.3 L1142.5,893.8 L1144.9,896.2 L1147.3,897.7 L1149.6,902.0 L1152.7,895.9 L1154.7,896.3 L1156.8,894.2 L1158.8,895.9 L1160.8,896.1 L1162.9,894.6 L1164.9,891.8 L1167.5,890.5 L1170.0,891.0 L1171.0,890.8 L1173.1,892.5 L1175.1,897.1 L1176.1,894.8 L1180.0,890.8 L1181.2,891.0 L1183.2,889.8 L1185.3,886.8 L1187.3,882.9 L1189.9,877.6 L1192.4,875.7 L1194.5,870.6 L1196.5,865.5 L1198.5,860.4 L1201.1,863.4 L1203.6,864.5 L1206.2,865.3 L1208.7,864.5 L1210.8,857.4 L1212.8,850.3 L1215.3,852.6 L1217.9,854.3 L1220.4,855.7 L1223.0,860.4 L1225.0,863.5 L1227.1,867.6 L1229.1,868.6 L1231.1,869.3 L1233.2,872.7 L1236.2,886.9 L1238.3,880.3 L1240.3,873.7 L1242.7,873.2 L1245.1,877.2 L1247.4,876.7 L1249.5,879.4 L1251.5,880.1 L1253.6,881.8 L1255.6,889.5 L1257.6,897.1 L1259.7,899.6 L1261.7,902.2 L1263.7,905.3 L1265.8,908.6 L1267.8,909.4 L1269.9,902.7 L1271.9,896.1 L1273.9,904.8 L1276.0,913.4 L1278.0,918.1 L1280.0,922.6 L1282.6,924.3 L1285.1,926.7 L1287.7,930.1 L1290.2,931.8 L1292.3,932.8 L1294.3,936.1 L1296.3,936.9 L1298.4,934.0 L1300.4,933.0 L1302.5,929.7 L1304.5,930.3 L1306.5,933.8 L1308.6,933.8 L1311.1,931.4 L1313.7,930.8 L1316.2,931.5 L1318.8,934.8 L1320.8,933.6 L1322.8,930.2 L1324.9,929.7 L1326.9,937.9 L1329.0,946.0 L1331.0,935.9 L1333.0,925.7 L1335.1,924.5 L1337.1,922.8 L1339.1,919.5 L1341.7,918.5 L1344.2,916.5 L1346.8,916.9 L1349.3,915.5 L1351.4,915.3 L1353.4,917.7 L1355.4,918.5 L1357.5,917.9 L1359.5,922.1 L1361.6,921.6 L1363.6,921.7 L1365.6,923.5 L1367.7,926.7 L1370.2,926.4 L1372.8,929.7 L1375.3,934.2 L1377.9,939.9 L1379.9,939.7 L1381.9,936.4 L1384.0,933.8 L1386.5,938.2 L1389.1,944.0 L1391.1,943.8 L1393.1,944.5 L1395.2,947.1 L1397.2,948.0 L1399.3,945.7 L1401.3,945.0 L1403.7,947.2 L1406.1,951.2 L1408.4,953.2 L1410.5,955.0 L1412.5,956.6 L1414.5,957.9 L1416.6,960.3 L1418.6,959.1 L1420.7,957.3 L1422.7,954.2 L1425.1,951.2 L1427.4,948.1 L1429.8,946.0 L1432.4,954.2 L1434.9,962.4 L1437.0,958.8 L1439.0,954.2 L1441.0,955.7 L1443.1,955.3 L1445.1,958.3" stroke="#000000"/>
<path d="M905.1,678.1 L907.1,683.0 L909.2,686.2 L911.7,683.6 L914.3,680.1 L916.8,677.8 L919.4,675.0 L921.4,677.6 L923.4,678.1 L926.5,692.3 L928.5,685.2 L930.6,678.1 L933.6,678.1 L936.7,684.2 L938.7,679.1 L940.8,674.0 L943.3,671.6 L945.9,668.9 L947.9,663.3 L949.9,657.7 L952.0,657.2 L954.0,657.7 L956.6,654.1 L959.1,649.5 L962.2,655.6 L965.2,643.4 L967.2,644.2 L969.3,643.4 L971.3,648.5 L973.4,653.6 L975.4,654.0 L977.4,656.7 L979.5,655.5 L981.5,655.6 L983.6,660.7 L985.6,665.8 L987.6,663.2 L989.7,663.8 L991.7,667.0 L993.7,671.9 L995.8,671.8 L997.8,673.7 L999.9,676.0 L1001.9,679.3 L1003.9,682.9 L1006.0,684.2 L1008.5,679.6 L1011.1,676.0 L1013.1,678.6 L1015.1,682.3 L1017.2,683.1 L1019.7,678.0 L1022.3,676.0 L1024.3,669.9 L1026.3,666.8 L1028.4,672.6 L1030.4,678.4 L1032.5,684.2 L1034.5,681.1 L1036.5,676.0 L1038.6,675.3 L1040.6,673.7 L1042.6,669.9 L1044.7,670.3 L1046.7,671.4 L1048.8,669.9 L1051.3,666.3 L1053.9,664.8 L1056.2,665.4 L1058.6,666.3 L1061.0,664.8 L1063.0,664.9 L1065.1,661.0 L1067.1,661.6 L1069.1,660.7 L1071.7,658.3 L1074.2,654.6 L1076.8,654.4 L1079.3,656.7 L1081.9,653.6 L1084.4,649.5 L1087.0,656.4 L1089.5,659.7 L1091.6,654.6 L1093.6,649.5 L1096.1,644.9 L1098.7,639.3 L1101.2,645.7 L1103.8,648.5 L1106.2,649.0 L1108.5,651.8 L1110.9,653.6 L1113.0,650.9 L1115.0,650.6 L1117.0,648.5 L1119.6,654.6 L1122.1,658.7 L1124.2,657.0 L1126.2,656.9 L1128.2,659.7 L1130.3,657.7 L1132.7,659.5 L1135.0,662.9 L1137.4,665.8 L1139.4,660.7 L1141.5,655.6 L1144.0,658.0 L1146.6,661.7 L1148.6,660.3 L1150.7,661.7 L1153.2,666.6 L1155.7,669.9 L1158.3,662.8 L1160.8,655.6 L1163.4,651.5 L1165.9,650.5 L1169.0,638.3 L1171.0,643.4 L1173.1,648.5 L1174.1,649.5 L1176.1,643.4 L1179.2,635.3 L1180.0,623.0 L1182.1,618.3 L1184.3,614.9 L1186.8,605.7 L1189.4,596.5 L1192.4,584.3 L1195.5,580.2 L1198.5,563.9 L1200.6,549.6 L1202.6,535.4 L1205.7,515.0 L1206.7,483.4 L1208.7,458.0 L1210.8,432.5 L1212.8,407.0 L1214.8,381.5 L1216.9,361.1 L1218.9,340.8 L1222.0,312.2 L1225.1,290.0 L1228.7,251.8 L1232.2,223.2 L1235.8,207.7 L1238.2,209.3 L1240.6,211.3 L1244.1,218.5 L1247.7,239.9 L1249.7,260.0 L1252.1,284.3 L1254.0,308.6 L1255.8,332.9 L1258.2,357.1 L1260.0,381.4 L1261.9,400.0 L1263.7,426.4 L1265.8,449.8 L1267.8,473.2 L1269.9,515.0 L1271.9,514.0 L1273.9,545.6 L1276.0,560.9 L1278.0,576.1 L1280.0,592.5 L1282.1,608.8 L1284.6,622.0 L1287.2,635.3 L1289.2,646.5 L1291.3,657.7 L1294.3,680.1 L1296.3,683.7 L1298.4,684.2 L1300.9,682.7 L1303.5,680.1 L1306.0,680.7 L1308.6,684.2 L1310.6,689.1 L1312.6,690.3 L1314.7,694.4 L1317.2,688.6 L1319.8,685.2 L1322.3,691.0 L1324.9,696.4 L1326.9,697.8 L1329.0,701.5 L1331.5,698.0 L1334.0,696.4 L1336.6,696.7 L1339.1,700.5 L1341.7,698.2 L1344.2,696.4 L1346.8,700.4 L1349.3,703.5 L1351.9,696.7 L1354.4,693.3 L1356.5,690.4 L1358.5,688.6 L1360.5,686.0 L1362.6,685.2 L1364.6,685.3 L1366.7,687.4 L1368.7,688.2 L1370.7,679.1 L1372.8,669.9 L1374.8,672.6 L1376.8,676.0 L1378.9,684.2 L1380.9,692.3 L1383.5,690.8 L1386.0,692.3 L1388.0,691.7 L1390.1,694.9 L1392.1,696.8 L1394.2,696.4 L1396.5,698.1 L1398.9,694.6 L1401.3,696.4 L1403.3,699.3 L1405.4,703.5 L1407.4,705.6 L1409.8,705.5 L1412.2,707.3 L1414.5,708.6 L1416.8,706.6 L1419.1,705.4 L1421.4,703.8 L1423.7,704.5 L1426.1,708.8 L1428.5,713.5 L1430.8,719.8 L1433.2,716.1 L1435.6,711.3 L1438.0,709.6 L1440.4,712.0 L1442.7,713.2 L1445.1,715.8" stroke="#f010f0"/>
<path d="M905.1,462.0 L907.1,458.7 L909.2,456.9 L911.2,453.8 L913.2,453.9 L915.3,455.6 L917.3,458.0 L919.4,456.2 L921.4,456.9 L923.9,452.7 L926.5,449.8 L929.0,451.8 L931.6,450.8 L934.1,452.7 L936.7,451.8 L938.7,448.4 L940.8,442.7 L943.8,433.5 L945.9,431.6 L947.9,426.4 L949.9,432.5 L952.0,438.6 L954.0,437.5 L956.0,434.5 L958.1,426.4 L960.1,418.2 L962.7,421.9 L965.2,426.4 L967.6,425.3 L970.0,427.6 L972.3,428.4 L974.9,432.2 L977.4,436.6 L979.5,439.0 L981.5,439.6 L983.6,441.8 L985.6,440.2 L987.6,441.7 L989.7,442.8 L991.7,445.6 L993.7,447.8 L996.3,448.8 L998.8,446.7 L1001.4,450.2 L1003.9,453.9 L1006.0,451.5 L1008.0,446.7 L1010.0,444.7 L1012.1,444.7 L1014.1,442.7 L1016.5,441.8 L1018.9,436.8 L1021.3,435.5 L1024.3,445.7 L1026.3,443.2 L1028.4,438.6 L1030.4,438.4 L1032.5,434.7 L1034.5,433.5 L1036.5,433.3 L1038.6,433.5 L1040.6,436.1 L1042.6,435.5 L1045.0,436.8 L1047.4,440.4 L1049.8,443.7 L1052.2,441.3 L1054.5,438.9 L1056.9,437.6 L1059.0,436.9 L1061.0,433.9 L1063.0,430.4 L1065.6,427.2 L1068.1,422.3 L1070.7,424.2 L1073.2,427.4 L1075.8,432.5 L1078.3,435.5 L1080.7,431.2 L1083.1,426.1 L1085.4,420.3 L1087.5,422.1 L1089.5,424.5 L1091.6,424.3 L1093.6,426.8 L1095.6,429.8 L1097.7,430.4 L1099.7,430.6 L1101.7,431.2 L1103.8,430.4 L1106.1,429.7 L1108.4,427.3 L1110.7,428.2 L1113.0,426.4 L1115.5,429.7 L1118.0,432.5 L1120.1,430.3 L1122.1,429.0 L1124.2,429.9 L1126.2,428.9 L1128.2,426.4 L1130.3,428.8 L1132.3,429.8 L1134.4,432.1 L1136.4,432.5 L1138.4,434.3 L1140.5,432.9 L1142.5,434.5 L1145.6,440.6 L1147.9,439.8 L1150.3,435.9 L1152.7,434.5 L1154.7,434.5 L1156.8,430.5 L1158.8,430.4 L1160.8,427.7 L1162.9,426.2 L1164.9,422.3 L1167.0,419.7 L1169.0,419.6 L1171.0,419.2 L1173.6,417.2 L1176.1,414.1 L1178.2,414.1 L1180.2,407.0 L1182.2,399.9 L1184.3,394.3 L1186.3,393.5 L1188.3,387.6 L1190.4,382.5 L1192.4,377.5 L1194.5,374.6 L1196.5,369.3 L1198.5,363.2 L1200.6,357.1 L1203.6,340.8 L1205.7,330.6 L1207.7,320.4 L1210.8,304.1 L1212.0,294.7 L1214.4,280.4 L1216.7,266.1 L1219.1,251.8 L1221.5,237.5 L1223.9,228.0 L1226.3,218.5 L1228.7,207.7 L1231.0,197.0 L1234.6,175.6 L1238.2,173.2 L1241.8,169.6 L1244.1,174.7 L1246.5,180.3 L1250.1,194.6 L1253.7,211.3 L1257.2,220.9 L1261.2,260.0 L1264.3,284.3 L1267.9,308.6 L1271.6,332.9 L1275.2,357.1 L1278.8,381.4 L1281.9,400.0 L1283.1,406.0 L1285.6,416.2 L1288.2,426.4 L1290.7,438.6 L1293.3,450.8 L1295.8,454.6 L1298.4,459.0 L1300.4,459.7 L1302.5,460.4 L1304.5,463.1 L1306.9,464.3 L1309.3,465.7 L1311.6,469.2 L1314.2,466.9 L1316.7,468.1 L1318.8,471.3 L1320.8,470.9 L1322.8,474.8 L1324.9,476.1 L1326.9,476.3 L1329.0,474.0 L1331.0,473.2 L1333.0,473.2 L1335.4,473.0 L1337.8,472.5 L1340.2,471.2 L1342.7,477.1 L1345.3,479.4 L1347.3,474.6 L1349.3,474.1 L1351.4,469.2 L1353.9,471.1 L1356.5,471.2 L1358.5,469.1 L1360.5,465.3 L1362.6,463.1 L1364.6,464.0 L1366.7,463.0 L1368.7,461.0 L1371.2,462.2 L1373.8,465.1 L1375.8,466.1 L1377.9,465.1 L1379.9,462.3 L1381.9,463.0 L1384.0,463.1 L1386.0,467.3 L1388.0,468.1 L1390.1,471.2 L1392.1,469.1 L1394.2,468.2 L1396.2,469.2 L1398.2,472.2 L1400.3,478.9 L1402.3,482.4 L1404.4,482.7 L1406.4,481.6 L1408.4,481.9 L1410.5,479.4 L1412.5,480.0 L1414.5,479.2 L1416.6,478.3 L1418.6,484.1 L1420.7,489.9 L1422.7,495.7 L1424.7,493.0 L1426.8,487.5 L1428.8,490.2 L1430.8,493.5 L1432.9,495.7 L1434.9,493.6 L1437.0,492.6 L1439.0,491.6 L1441.5,494.7 L1444.1,497.7" stroke="#0a800a"/>
<path d="M906.1,373.4 L908.2,366.2 L910.2,359.1 L912.2,361.6 L914.3,363.2 L916.3,365.8 L918.3,367.3 L920.9,360.6 L923.4,354.0 L926.0,354.4 L928.5,358.1 L931.1,355.9 L933.6,355.0 L936.2,355.4 L938.7,356.0 L940.8,351.6 L942.8,347.9 L945.3,346.5 L947.9,346.9 L949.9,345.3 L952.0,340.8 L954.0,340.2 L956.0,342.9 L958.1,343.8 L960.1,346.4 L962.2,345.9 L965.2,329.6 L967.2,335.2 L969.3,340.8 L971.3,353.0 L973.9,351.4 L976.4,349.9 L978.5,355.0 L980.5,360.1 L983.0,356.9 L985.6,353.0 L987.6,352.6 L989.7,354.0 L992.2,355.3 L994.8,359.1 L997.3,356.6 L999.9,353.0 L1001.9,350.2 L1003.9,349.4 L1006.0,345.9 L1008.0,345.1 L1010.0,344.5 L1012.1,342.8 L1014.6,346.0 L1017.2,351.0 L1019.7,343.2 L1022.3,338.7 L1024.8,341.1 L1027.4,344.8 L1029.7,346.7 L1032.1,347.5 L1034.5,351.0 L1036.5,349.4 L1038.6,348.1 L1040.6,348.9 L1042.6,345.3 L1044.7,343.0 L1046.7,340.8 L1048.8,339.0 L1050.8,340.3 L1052.8,338.7 L1054.9,339.2 L1056.9,339.7 L1060.0,322.4 L1062.0,325.5 L1064.0,330.6 L1066.1,335.6 L1068.1,338.7 L1070.2,336.4 L1072.2,336.9 L1074.2,334.6 L1076.3,332.1 L1078.3,330.6 L1080.3,327.7 L1082.4,325.5 L1084.9,327.3 L1087.5,330.6 L1089.5,331.9 L1091.6,332.9 L1093.6,333.6 L1096.1,336.0 L1098.7,336.7 L1101.2,339.7 L1103.8,341.8 L1105.8,342.9 L1107.9,344.8 L1109.9,342.6 L1111.9,338.7 L1114.3,338.8 L1116.7,339.3 L1119.1,337.7 L1121.6,338.3 L1124.2,339.7 L1126.2,340.4 L1128.2,337.7 L1130.3,342.4 L1132.3,345.8 L1134.4,347.9 L1136.4,347.0 L1138.4,346.2 L1140.5,346.9 L1142.5,343.9 L1144.5,340.8 L1146.6,332.6 L1148.6,334.6 L1150.7,338.7 L1153.2,332.7 L1155.7,326.5 L1159.6,320.0 L1160.8,316.3 L1162.9,311.9 L1164.9,310.2 L1167.0,310.5 L1169.1,307.8 L1170.0,308.2 L1172.6,309.8 L1175.1,313.2 L1176.2,312.6 L1179.2,303.1 L1182.2,299.5 L1185.2,292.5 L1188.2,287.6 L1191.1,284.4 L1194.1,280.4 L1196.5,274.5 L1198.9,268.5 L1202.5,256.6 L1204.8,251.3 L1207.2,247.1 L1210.8,232.8 L1214.4,213.7 L1217.9,187.5 L1221.5,173.2 L1223.9,167.2 L1226.3,161.3 L1229.9,144.6 L1233.4,132.7 L1237.0,113.6 L1239.4,111.2 L1243.0,123.1 L1246.5,132.7 L1248.9,138.6 L1251.3,144.6 L1254.9,156.5 L1258.4,180.3 L1262.0,199.4 L1265.6,218.5 L1268.5,260.0 L1271.0,278.2 L1273.4,296.4 L1276.4,308.6 L1278.8,315.9 L1281.3,323.1 L1284.3,338.9 L1286.7,357.1 L1289.8,369.3 L1293.4,377.8 L1296.4,386.3 L1299.5,382.6 L1303.5,378.5 L1306.0,382.5 L1308.6,386.6 L1310.6,386.7 L1312.6,388.9 L1314.7,387.6 L1316.7,388.2 L1318.8,391.5 L1320.8,392.3 L1322.8,393.8 L1324.9,391.2 L1326.9,388.1 L1329.0,387.6 L1331.0,390.9 L1333.0,391.7 L1335.6,385.5 L1338.1,382.5 L1340.7,386.5 L1343.2,391.7 L1345.3,391.1 L1347.3,387.2 L1349.3,387.6 L1351.4,386.3 L1353.4,384.6 L1355.4,383.6 L1357.8,383.9 L1360.2,382.0 L1362.6,379.5 L1364.6,377.2 L1366.7,374.0 L1368.7,373.4 L1371.2,376.7 L1373.8,378.5 L1375.8,380.6 L1377.9,382.2 L1379.9,385.6 L1381.9,380.4 L1384.0,378.5 L1386.5,383.1 L1389.1,389.7 L1391.6,392.8 L1394.2,395.8 L1396.7,395.7 L1399.3,393.8 L1401.6,394.8 L1404.0,399.2 L1406.4,401.9 L1408.9,399.8 L1411.5,396.8 L1414.0,403.4 L1416.6,410.1 L1418.6,410.3 L1420.7,413.3 L1422.7,410.7 L1424.7,413.1 L1426.8,411.3 L1428.8,410.9 L1430.8,413.0 L1432.9,413.0 L1434.9,411.1 L1437.2,409.2 L1439.5,411.2 L1441.8,410.4 L1444.1,409.0" stroke="#0b0b80"/>
</g>
<!-- arrow -->
<g>
<line x1="1339.8" y1="147.6" x2="1278" y2="205" stroke="#f06a6a" stroke-width="1.9"/>
<polygon points="1267.6,214 1273.3,199.9 1283.1,209.8" fill="#f21010"/>
</g>
<!-- tick labels -->
<g>
<text transform="translate(248.10,1054.80) scale(0.9806,1)" font-size="41.24" font-weight="normal" fill="#111">920</text>
<text transform="translate(356.50,1054.80) scale(0.9806,1)" font-size="41.24" font-weight="normal" fill="#111">910</text>
<text transform="translate(464.90,1054.80) scale(0.9806,1)" font-size="41.24" font-weight="normal" fill="#111">900</text>
<text transform="translate(573.45,1054.80) scale(0.9785,1)" font-size="41.24" font-weight="normal" fill="#111">890</text>
<text transform="translate(681.85,1054.80) scale(0.9785,1)" font-size="41.24" font-weight="normal" fill="#111">880</text>
<text transform="translate(966.46,1057.30) scale(0.9897,1)" font-size="41.24" font-weight="normal" fill="#111">292</text>
<text transform="translate(1093.95,1057.30) scale(0.9855,1)" font-size="41.24" font-weight="normal" fill="#111">288</text>
<text transform="translate(1221.44,1057.30) scale(0.9767,1)" font-size="41.24" font-weight="normal" fill="#111">284</text>
<text transform="translate(1348.91,1057.30) scale(0.9827,1)" font-size="41.24" font-weight="normal" fill="#111">280</text>
</g>
<text transform="translate(300.47,1123.80) scale(0.9582,1)" font-size="51.31" font-weight="normal" fill="#111">Binding Energy (eV)</text>
<text transform="translate(955.06,1123.80) scale(0.9604,1)" font-size="51.31" font-weight="normal" fill="#111">Binding Energy (eV)</text>
<g transform="translate(178.1,855.3) rotate(-90)"><text transform="translate(-4.02,0.00) scale(0.9687,1)" font-size="50.58" font-weight="normal" fill="#111">Normalized Intensity (a.u.)</text></g>
<text transform="translate(517.23,53.05) scale(0.9685,1)" font-size="46.04" font-weight="bold" fill="#000">50</text>
<text transform="translate(578.63,52.70) scale(0.9415,1)" font-size="46.22" font-weight="bold" fill="#000">mTorr</text>
<text transform="translate(716.05,52.50) scale(0.9042,1)" font-size="44.54" font-weight="bold" fill="#000">CH</text>
<text transform="translate(774.45,62.90) scale(0.7996,1)" font-size="37.36" font-weight="bold" fill="#000">4</text>
<text transform="translate(799.47,51.60) scale(1.2304,1)" font-size="39.38" font-weight="bold" fill="#000">+</text>
<text transform="translate(837.39,53.05) scale(0.9246,1)" font-size="46.04" font-weight="bold" fill="#000">50</text>
<text transform="translate(897.31,52.70) scale(0.9145,1)" font-size="46.22" font-weight="bold" fill="#000">mTorr</text>
<text transform="translate(1029.96,53.05) scale(0.9196,1)" font-size="46.04" font-weight="bold" fill="#000">CO</text>
<text transform="translate(1094.97,61.50) scale(0.9056,1)" font-size="32.80" font-weight="bold" fill="#000">2</text>
<text transform="translate(20.81,125.41) scale(0.8152,1)" font-size="60.42" font-weight="normal" fill="#000">a</text>
<text transform="translate(56.91,123.44) scale(0.7775,1)" font-size="63.54" font-weight="normal" fill="#000">)</text>
<text transform="translate(822.02,125.10) scale(0.9897,1)" font-size="64.03" font-weight="normal" fill="#000">b</text>
<text transform="translate(861.02,123.63) scale(0.7364,1)" font-size="65.05" font-weight="normal" fill="#000">)</text>
<text transform="translate(613.91,144.63) scale(1.0268,1)" font-size="47.80" font-weight="normal" fill="#111">Ce 3d</text>
<text transform="translate(927.02,148.73) scale(1.0208,1)" font-size="47.93" font-weight="normal" fill="#111">C1s+Ru 3d</text>
<text transform="translate(417.86,897.81) scale(0.8956,1)" font-size="40.40" font-weight="normal" fill="#111">Ce</text>
<text transform="translate(464.62,884.63) scale(0.9440,1)" font-size="27.26" font-weight="normal" fill="#111">3</text>
<text transform="translate(478.46,883.08) scale(1.2176,1)" font-size="22.48" font-weight="normal" fill="#111">+</text>
<text transform="translate(610.51,921.21) scale(0.8746,1)" font-size="40.40" font-weight="normal" fill="#111">Ce</text>
<text transform="translate(656.12,910.03) scale(0.9440,1)" font-size="27.26" font-weight="normal" fill="#111">3</text>
<text transform="translate(669.86,908.48) scale(1.4007,1)" font-size="22.48" font-weight="normal" fill="#111">+</text>
<text transform="translate(1257.43,136.11) scale(0.9664,1)" font-size="40.22" font-weight="normal" fill="#111">Surface C</text>
<text transform="translate(1125.32,228.99) scale(0.8907,1)" font-size="42.37" font-weight="normal" fill="#111">-CO</text>
<text transform="translate(937.58,260.59) scale(0.8585,1)" font-size="41.81" font-weight="normal" fill="#111">CO</text>
<text transform="translate(992.01,270.30) scale(0.8852,1)" font-size="26.78" font-weight="normal" fill="#111" stroke="#111" stroke-width="0.5">2</text>
<text transform="translate(1007.40,269.19) scale(0.9564,1)" font-size="27.03" font-weight="normal" fill="#111" stroke="#111" stroke-width="0.7">(gas)</text>
<text transform="translate(1368.08,277.40) scale(0.9418,1)" font-size="40.41" font-weight="normal" fill="#111">Ru</text>
<text transform="translate(1417.38,264.66) scale(1.1595,1)" font-size="24.72" font-weight="normal" fill="#111">0</text>
<text transform="translate(1304.35,329.10) scale(0.9232,1)" font-size="40.26" font-weight="normal" fill="#111">Ru</text>
<text transform="translate(1353.59,315.83) scale(1.0472,1)" font-size="27.51" font-weight="normal" fill="#111">δ</text>
<text transform="translate(1369.28,316.16) scale(1.0993,1)" font-size="24.53" font-weight="normal" fill="#111">+</text>
<text transform="translate(1293.30,610.80) scale(0.9811,1)" font-size="38.52" font-weight="normal" fill="#111">Ru</text>
<text transform="translate(1342.69,600.50) scale(0.8402,1)" font-size="26.45" font-weight="normal" fill="#111">4</text>
<text transform="translate(1357.16,599.16) scale(1.1161,1)" font-size="24.53" font-weight="normal" fill="#111">+</text>
<text transform="translate(1148.87,951.89) scale(0.8700,1)" font-size="41.52" font-weight="normal" fill="#111">CH</text>
<text transform="translate(1201.78,960.50) scale(1.0688,1)" font-size="25.44" font-weight="normal" fill="#111" stroke="#111" stroke-width="0.7">4</text>
<text transform="translate(1218.30,960.06) scale(1.0006,1)" font-size="25.75" font-weight="normal" fill="#111" stroke="#111" stroke-width="0.7">(gas)</text>
<!-- temps -->
<text transform="translate(782.97,402.07) scale(0.9785,1)" font-size="34.18" font-weight="bold" fill="#111">500</text>
<circle cx="858.8" cy="376.4" r="6.3" fill="none" stroke="#222" stroke-width="2"/>
<text transform="translate(868.88,402.25) scale(0.8953,1)" font-size="35.88" font-weight="bold" fill="#111">C</text>
<text transform="translate(783.50,494.96) scale(0.9455,1)" font-size="35.03" font-weight="bold" fill="#111">400</text>
<circle cx="858.8" cy="468.7" r="6.3" fill="none" stroke="#222" stroke-width="2"/>
<text transform="translate(868.88,495.14) scale(0.8746,1)" font-size="36.72" font-weight="bold" fill="#111">C</text>
<text transform="translate(783.24,695.61) scale(0.9560,1)" font-size="34.81" font-weight="bold" fill="#111">300</text>
<circle cx="858.8" cy="669.5" r="6.3" fill="none" stroke="#222" stroke-width="2"/>
<text transform="translate(868.88,695.84) scale(0.8780,1)" font-size="36.58" font-weight="bold" fill="#111">C</text>
<text transform="translate(782.84,776.26) scale(0.9610,1)" font-size="34.89" font-weight="bold" fill="#111">200</text>
<circle cx="858.8" cy="750.1" r="6.3" fill="none" stroke="#222" stroke-width="2"/>
<text transform="translate(868.88,776.44) scale(0.8780,1)" font-size="36.58" font-weight="bold" fill="#111">C</text>
<text transform="translate(781.85,875.06) scale(0.9705,1)" font-size="35.17" font-weight="bold" fill="#111">150</text>
<circle cx="858.8" cy="848.7" r="6.3" fill="none" stroke="#222" stroke-width="2"/>
<text transform="translate(868.88,875.24) scale(0.8713,1)" font-size="36.86" font-weight="bold" fill="#111">C</text>
<text transform="translate(794.00,961.76) scale(0.9992,1)" font-size="34.60" font-weight="bold" fill="#111">25</text>
<circle cx="850.8" cy="936.0" r="6.3" fill="none" stroke="#222" stroke-width="2"/>
<text transform="translate(860.68,961.75) scale(0.9060,1)" font-size="35.45" font-weight="bold" fill="#111">C</text>
</svg>
</body></html>
